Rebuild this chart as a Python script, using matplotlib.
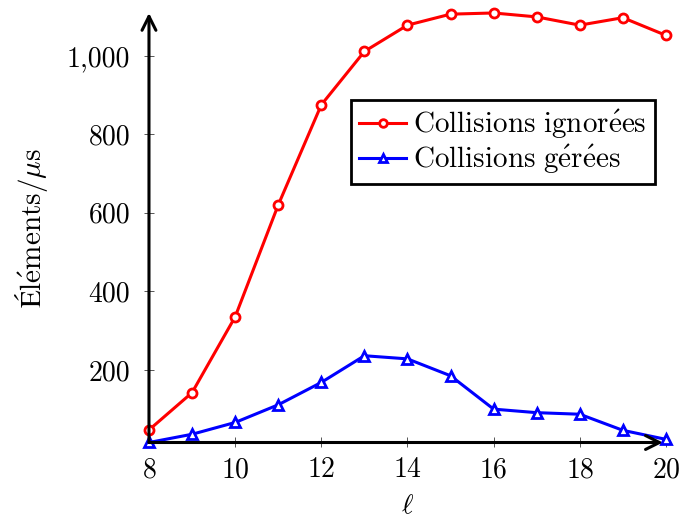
import numpy as np
import matplotlib
matplotlib.use("Agg")
import matplotlib.pyplot as plt
from matplotlib.ticker import FuncFormatter

# data
ell = [8, 9, 10, 11, 12, 13, 14, 15, 16, 17, 18, 19, 20]
ignorees = [47, 142, 335, 620, 875, 1011, 1078, 1106, 1109, 1099, 1078, 1097, 1052]
gerees = [15, 36, 66, 111, 168, 236, 228, 185, 100, 91, 87, 46, 23]

label_ign = r'$\mathrm{Collisions\ ignor\acute{e}es}$'
label_ger = r'$\mathrm{Collisions\ g\acute{e}r\acute{e}es}$'
ylab = r'$\mathrm{Él\acute{e}ments}/\mu\mathrm{s}$'

plt.rcParams['font.family'] = ['cmr10', 'DejaVu Serif']
plt.rcParams['mathtext.fontset'] = 'cm'
plt.rcParams['axes.formatter.use_mathtext'] = True
plt.rcParams['font.size'] = 20

fig = plt.figure(figsize=(6.84, 5.19), dpi=100)
ax = fig.add_axes([0.2178, 0.1474, 0.7558, 0.8276])

ax.plot(ell, ignorees, color='red', lw=2.2, marker='o', ms=6.5,
        mfc='white', mec='red', mew=2.0, label=label_ign, clip_on=False, zorder=3)
ax.plot(ell, gerees, color='blue', lw=2.2, marker='^', ms=7.5,
        mfc='white', mec='blue', mew=2.0, label=label_ger, clip_on=False, zorder=3)

ax.set_xlim(8, 20)
ax.set_ylim(min(gerees), max(ignorees))
ax.set_xticks(np.arange(8, 21, 2))
ax.set_yticks([200, 400, 600, 800, 1000])
ax.yaxis.set_major_formatter(FuncFormatter(lambda v, p: f'{v:,.0f}'))

for s in ax.spines.values():
    s.set_visible(False)
ax.tick_params(direction='inout', length=7, width=0.7, color='#555555')
ax.tick_params(axis='y', pad=10)
ax.tick_params(axis='x', pad=7)

# axis lines with arrow heads
arr = dict(arrowstyle='->,head_length=0.5,head_width=0.25', lw=2.2, color='black',
           shrinkA=0, shrinkB=0)
ax.annotate('', xy=(0.994, 0), xytext=(0, 0), xycoords='axes fraction',
            arrowprops=arr, zorder=5, annotation_clip=False)
ax.annotate('', xy=(0, 1.0), xytext=(0, 0), xycoords='axes fraction',
            arrowprops=arr, zorder=5, annotation_clip=False)

ax.set_xlabel(r'$\ell$', labelpad=7)
ax.set_ylabel(ylab, labelpad=12, fontsize=21)

leg = ax.legend(loc='upper right', bbox_to_anchor=(0.979, 0.797), borderaxespad=0,
                fancybox=False, framealpha=1, edgecolor='black', handlelength=1.6,
                handletextpad=0.25, borderpad=0.28, labelspacing=0.05, fontsize=21)
leg.get_frame().set_linewidth(2.0)
for h in leg.legend_handles:
    h.set_markersize(5.5)

fig.savefig('out.png', dpi=100)
